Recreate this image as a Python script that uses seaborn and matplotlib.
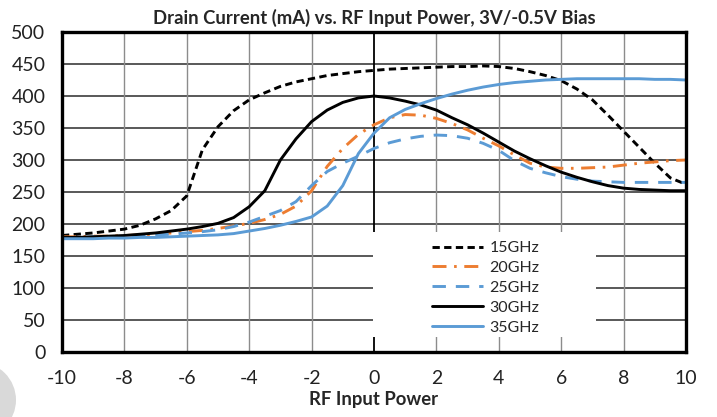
import numpy as np
import pandas as pd
import seaborn as sns
import matplotlib
import matplotlib.pyplot as plt
from matplotlib.patches import Rectangle, Circle

matplotlib.use('agg')

# RF input power (dBm), step 0.5
pin = np.arange(-10, 10.01, 0.5)

ma_15 = [182, 184, 186, 189, 192, 198, 208, 221, 244, 316, 352, 377, 394, 405,
         415, 422, 427, 432, 435, 438, 440, 442, 443, 444, 445, 446, 446, 447,
         446, 443, 438, 432, 424, 411, 394, 370, 345, 320, 295, 272, 262]
ma_20 = [180, 180, 181, 181, 182, 183, 184, 186, 188, 190, 193, 197, 201, 207,
         215, 228, 252, 290, 318, 340, 355, 366, 371, 370, 365, 357, 347, 334,
         322, 308, 295, 289, 287, 287, 288, 289, 292, 295, 297, 299, 300]
ma_25 = [179, 179, 180, 180, 181, 182, 183, 184, 186, 188, 191, 196, 203, 212,
         221, 235, 260, 282, 295, 306, 318, 327, 333, 337, 339, 338, 334, 326,
         315, 299, 287, 280, 274, 270, 267, 266, 265, 265, 265, 265, 265]
ma_30 = [179, 179, 180, 181, 182, 184, 186, 189, 192, 196, 201, 210, 227, 252,
         300, 333, 360, 378, 390, 397, 400, 397, 392, 386, 378, 366, 355, 342,
         328, 314, 302, 291, 281, 273, 266, 260, 256, 254, 253, 252, 252]
ma_35 = [177, 177, 177, 178, 178, 179, 179, 180, 181, 182, 183, 185, 189, 193,
         198, 204, 211, 228, 260, 310, 342, 366, 379, 388, 396, 403, 409, 414,
         418, 421, 423, 425, 426, 427, 427, 427, 427, 427, 426, 426, 425]

freqs = ['15GHz', '20GHz', '25GHz', '30GHz', '35GHz']
series = [ma_15, ma_20, ma_25, ma_30, ma_35]

df = pd.concat([pd.DataFrame({'pin': pin, 'ma': s, 'freq': f})
                for f, s in zip(freqs, series)], ignore_index=True)

sns.set_style("white")
plt.rcParams['font.family'] = ['Lato', 'DejaVu Sans']
plt.rcParams['axes.unicode_minus'] = False

fig = plt.figure(figsize=(7.17, 4.17), dpi=100)
ax = fig.add_axes([62 / 717, 65 / 417, 624 / 717, 320 / 417])

palette = {'15GHz': 'black', '20GHz': '#ED7D31', '25GHz': '#5B9BD5',
           '30GHz': 'black', '35GHz': '#5B9BD5'}
dashes = {'15GHz': (2.5, 1.5), '20GHz': (4.8, 2.6, 0.9, 2.6),
          '25GHz': (4.6, 3.4), '30GHz': '', '35GHz': ''}

sns.lineplot(data=df, x='pin', y='ma', hue='freq', style='freq',
             palette=palette, dashes=dashes, estimator=None, linewidth=2.1,
             ax=ax, zorder=3)

ax.set_xlim(-10, 10)
ax.set_ylim(0, 500)
ax.set_xticks(range(-10, 11, 2))
ax.set_yticks(range(0, 501, 50))
ax.tick_params(axis='both', length=0, labelsize=14, colors='#222222')
ax.tick_params(axis='x', pad=13)
ax.tick_params(axis='y', pad=12)

# grid: dark horizontal, grey vertical
ax.set_axisbelow(True)
for v in range(50, 500, 50):
    ax.axhline(v, color='#3c3c3c', lw=1.2, zorder=0.5)
for v in range(-8, 10, 2):
    if v != 0:
        ax.axvline(v, color='#8c8c8c', lw=1.0, zorder=0.5)
ax.axvline(0, color='black', lw=1.3, zorder=0.6)

for s in ax.spines.values():
    s.set_color('black')
    s.set_linewidth(2.4)
    s.set_zorder(4)

ax.set_title('Drain Current (mA) vs. RF Input Power, 3V/-0.5V Bias',
             fontsize=13.3, fontweight='bold', pad=6)
ax.set_xlabel('RF Input Power', fontsize=13.3, fontweight='bold', labelpad=3)
ax.set_ylabel('')

# white legend area
ax.add_patch(Rectangle((0.498, 0.047), 0.358, 0.328, transform=ax.transAxes,
                       facecolor='white', edgecolor='none', zorder=1))
handles, labels = ax.get_legend_handles_labels()
ax.legend(handles, labels, loc='upper left', bbox_to_anchor=(0.58, 0.372),
          frameon=False, borderpad=0, fontsize=11.5, handlelength=3.2,
          handletextpad=0.4, labelspacing=0.36)

fig.patches.append(Circle((-22, 17), 38, transform=None, facecolor='#d9d9d9',
                          edgecolor='none'))

fig.savefig('out.png', dpi=100)
